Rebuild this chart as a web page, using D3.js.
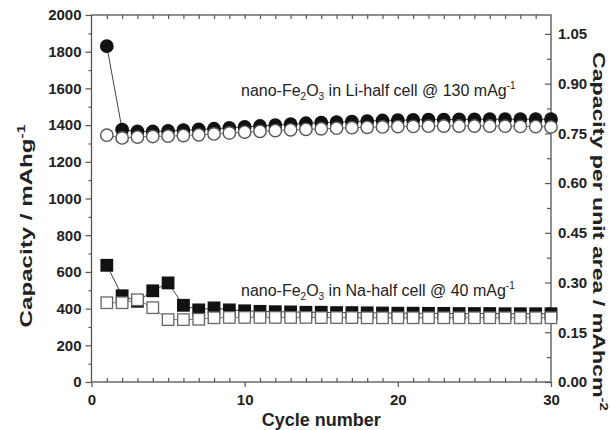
<!DOCTYPE html>
<html>
<head>
<meta charset="utf-8">
<script src="https://cdn.jsdelivr.net/npm/d3@7"></script>
<style>
  body { margin: 0; background: #fff; }
  text { font-family: "Liberation Sans", Arial, sans-serif; }
</style>
</head>
<body>
<div id="chart"></div>
<script>
// cycle numbers 1..30
var cycles = [1,2,3,4,5,6,7,8,9,10,11,12,13,14,15,16,17,18,19,20,21,22,23,24,25,26,27,28,29,30];

// nano-Fe2O3 in Li-half cell (mAh/g)
var liDischarge = [1830,1375,1366,1365,1368,1372,1376,1380,1385,1390,1395,1400,1405,1410,1413,1416,1419,1422,1425,1427,1428,1430,1430,1431,1431,1432,1432,1432,1432,1432];
var liCharge    = [1345,1330,1335,1338,1340,1343,1347,1352,1357,1362,1366,1370,1374,1377,1380,1383,1386,1388,1390,1392,1393,1394,1395,1395,1395,1395,1394,1393,1392,1390];

// nano-Fe2O3 in Na-half cell (mAh/g)
var naDischarge = [636,470,440,497,540,418,393,404,393,388,385,383,382,380,380,378,378,377,376,375,375,374,374,373,373,373,372,372,372,372];
var naCharge    = [432,432,448,405,340,340,342,350,352,352,352,352,352,352,351,351,351,350,350,350,350,350,350,350,350,350,350,350,350,350];

var xTicks = [0,10,20,30];
var yTicks = [0,200,400,600,800,1000,1200,1400,1600,1800,2000];
var y2Ticks = [0,0.15,0.30,0.45,0.60,0.75,0.90,1.05];

var W = 610, H = 430;
var svg = d3.select("#chart").append("svg").attr("width", W).attr("height", H);

var x = d3.scaleLinear().domain([0, 30]).range([91.5, 551]);
var y = d3.scaleLinear().domain([0, 2000]).range([382, 15]);
var y2 = d3.scaleLinear().domain([0, 1.107]).range([382, 15]);

var axisColor = "#555";

function styleAxis(g) {
    g.select(".domain").remove();
    g.selectAll(".tick line").attr("stroke", axisColor).attr("stroke-width", 1.2);
    g.selectAll(".tick text")
        .attr("fill", "#222")
        .style("font-size", "15px")
        .style("font-weight", "bold")
        .style("font-family", "'Liberation Sans', Arial, sans-serif");
}

// minor ticks
var minorX = d3.range(1, 30).filter(function(d) { return d % 10 != 0; });
var minorY = d3.range(100, 2000, 200);
var minorY2 = d3.range(0.075, 1.107, 0.15);

svg.append("g").attr("transform", "translate(0," + y(0) + ")")
    .call(d3.axisBottom(x).tickValues(minorX).tickSize(-4).tickFormat(""))
    .call(styleAxis);
svg.append("g").attr("transform", "translate(0," + y(0) + ")")
    .call(d3.axisBottom(x).tickValues(xTicks).tickSize(5).tickPadding(7).tickFormat(d3.format("d")))
    .call(styleAxis);

svg.append("g").attr("transform", "translate(0," + y(2000) + ")")
    .call(d3.axisTop(x).tickValues(d3.range(1, 30)).tickSize(-4).tickFormat(""))
    .call(styleAxis);

svg.append("g").attr("transform", "translate(" + x(0) + ",0)")
    .call(d3.axisLeft(y).tickValues(minorY).tickSize(3).tickFormat(""))
    .call(styleAxis);
svg.append("g").attr("transform", "translate(" + x(0) + ",0)")
    .call(d3.axisLeft(y).tickValues(yTicks).tickSize(6).tickPadding(4).tickFormat(d3.format("d")))
    .call(styleAxis);

svg.append("g").attr("transform", "translate(" + x(30) + ",0)")
    .call(d3.axisRight(y2).tickValues(minorY2).tickSize(-4).tickFormat(""))
    .call(styleAxis);
svg.append("g").attr("transform", "translate(" + x(30) + ",0)")
    .call(d3.axisRight(y2).tickValues(y2Ticks).tickSize(-6).tickPadding(7).tickFormat(d3.format(".2f")))
    .call(styleAxis);

// frame
svg.append("rect")
    .attr("x", x(0)).attr("y", y(2000))
    .attr("width", x(30) - x(0)).attr("height", y(0) - y(2000))
    .attr("fill", "none").attr("stroke", axisColor).attr("stroke-width", 1.3);

// series
var line = d3.line().x(function(d) { return x(d[0]); }).y(function(d) { return y(d[1]); });
function pairs(vals) { return cycles.map(function(c, i) { return [c, vals[i]]; }); }

function drawLine(vals, color) {
    svg.append("path").datum(pairs(vals))
        .attr("d", line).attr("fill", "none")
        .attr("stroke", color).attr("stroke-width", 1);
}

function drawCircles(vals, filled) {
    svg.append("g").selectAll("circle").data(pairs(vals)).enter().append("circle")
        .attr("cx", function(d) { return x(d[0]); })
        .attr("cy", function(d) { return y(d[1]); })
        .attr("r", 6.2)
        .attr("fill", filled ? "#111" : "#fff")
        .attr("stroke", filled ? "#111" : "#555")
        .attr("stroke-width", 1.4);
}

function drawSquares(vals, filled) {
    var s = 11.5;
    svg.append("g").selectAll("rect").data(pairs(vals)).enter().append("rect")
        .attr("x", function(d) { return x(d[0]) - s / 2; })
        .attr("y", function(d) { return y(d[1]) - s / 2; })
        .attr("width", s).attr("height", s)
        .attr("fill", filled ? "#111" : "#fff")
        .attr("stroke", filled ? "#111" : "#666")
        .attr("stroke-width", 1.3);
}

drawLine(liDischarge, "#444");
drawCircles(liDischarge, true);
drawLine(liCharge, "#777");
drawCircles(liCharge, false);

drawLine(naDischarge, "#444");
drawSquares(naDischarge, true);
drawLine(naCharge, "#777");
drawSquares(naCharge, false);

// series labels
function seriesLabel(xp, yp, cell, rate) {
    var t = svg.append("text").attr("x", xp).attr("y", yp)
        .attr("fill", "#222").style("font-size", "16px");
    t.append("tspan").text("nano-Fe");
    t.append("tspan").attr("dy", 4).style("font-size", "10px").text("2");
    t.append("tspan").attr("dy", -4).text("O");
    t.append("tspan").attr("dy", 4).style("font-size", "10px").text("3");
    t.append("tspan").attr("dy", -4).text(" in " + cell + " @ " + rate + " mAg");
    t.append("tspan").attr("dy", -7).style("font-size", "10px").text("-1");
}
seriesLabel(241, 96, "Li-half cell", "130");
seriesLabel(241, 296, "Na-half cell", "40");

// axis titles
svg.append("text")
    .attr("x", (x(0) + x(30)) / 2).attr("y", 426)
    .attr("text-anchor", "middle").attr("fill", "#222")
    .style("font-size", "18px").style("font-weight", "bold")
    .text("Cycle number");

var lt = svg.append("text")
    .attr("transform", "translate(32,226) rotate(-90) scale(1.42,1)")
    .attr("text-anchor", "middle").attr("fill", "#222")
    .style("font-size", "17px").style("font-weight", "bold");
lt.append("tspan").text("Capacity / mAhg");
lt.append("tspan").attr("dy", -7).style("font-size", "11px").text("-1");

var rt = svg.append("text")
    .attr("transform", "translate(593,52) rotate(90) scale(1.36,1)")
    .attr("fill", "#222")
    .style("font-size", "17px").style("font-weight", "bold");
rt.append("tspan").text("Capacity per unit area / mAhcm");
rt.append("tspan").attr("dy", -7).style("font-size", "11px").text("-2");
</script>
</body>
</html>
